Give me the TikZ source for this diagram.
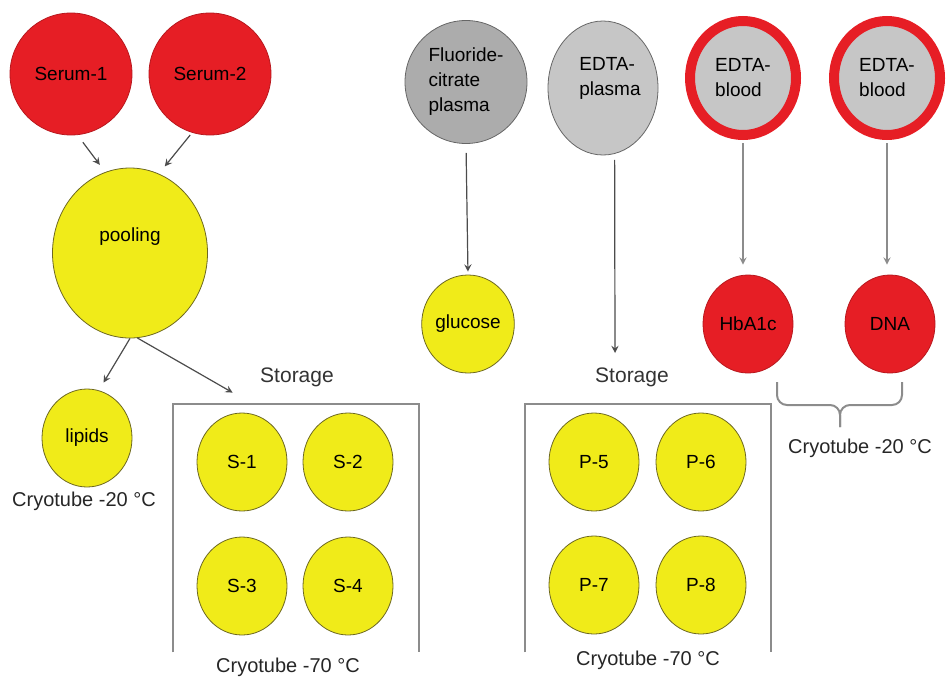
\documentclass[tikz,border=0pt]{standalone}
\usepackage{fontspec}
\setmainfont{Liberation Sans}
\usetikzlibrary{shapes.geometric, positioning, arrows, calc}
\definecolor{bloodred}{RGB}{230,30,37}
\definecolor{tubeyellow}{RGB}{240,235,25}
\definecolor{darkplasma}{RGB}{172,172,172}
\definecolor{lightplasma}{RGB}{198,198,198}
\tikzset{
    >=stealth, % small solid arrow heads
    every node/.style={font=\fontsize{9.5}{12.5}\selectfont, inner sep=0pt},
    tube/.style={ellipse, draw=olive!70!black, fill=tubeyellow, minimum width=45pt, minimum height=49pt}, % one sample tube
    redtube/.style={tube, draw=bloodred!80!black, fill=bloodred},
    serum/.style={ellipse, draw=bloodred!80!black, fill=bloodred, minimum width=61pt, minimum height=61pt},
    plasma/.style={ellipse, draw=black!60, align=left},
    blood/.style={ellipse, draw=bloodred, line width=5pt, fill=lightplasma, minimum width=53pt, minimum height=57pt, align=left},
    note/.style={font=\fontsize{10}{12}\selectfont, text=black!85},
    storage/.style={font=\fontsize{10.5}{12}\selectfont, text=black!80},
    arr/.style={->, draw=black!70, line width=0.6pt},
    frame/.style={draw=black!45, line width=1pt},
    rack/.style={minimum width=123pt, minimum height=124pt},
}
\begin{document}
\begin{tikzpicture}[x=0.5pt, y=-0.5pt]
\useasboundingbox (0,0) rectangle (946,680);
% serum
\node[serum] (s1) at (71,74) {Serum-1};
\node[serum, right of=s1, node distance=69.5pt] (s2) {Serum-2};
\node[tube, minimum width=77.5pt, minimum height=85pt, label={[yshift=8pt]center:pooling}] (pool) at (130,253) {};
\node[tube] (lip) at (87,438) {lipids};
\node[note] (lcold) at (84,501) {Cryotube -20 °C};
\node[storage] (sstore) at (297,377) {Storage};
\node[rack] (lbox) at (296,528) {};
\draw[frame] (lbox.south west) |- (lbox.north east) -- (lbox.south east);
\node[tube] (S1) at (242,462) {S-1};
\node[tube, right of=S1, node distance=53pt] (S2) {S-2};
\node[tube, below of=S1, node distance=62pt] (S3) {S-3};
\node[tube, right of=S3, node distance=53pt] (S4) {S-4};
\node[note] (scold) at (288,667) {Cryotube -70 °C};
\coordinate (sarr) at ($(lbox.north west)+(60,-11)$);
\draw[arr, shorten <=4.5pt, shorten >=4.5pt] (s1.-84) -- (pool.107);
\draw[arr, shorten <=1.5pt, shorten >=4.7pt] (s2.-107) -- (pool.70);
\draw[arr, shorten >=4.5pt] (pool.south) -- (lip.76);
\draw[arr] (pool.-85) -- (sarr);
% plasma and whole blood
\node[plasma, fill=darkplasma, minimum width=61pt, minimum height=61.5pt] (flu) at (466,82) {Fluoride-\\citrate\\plasma};
\node[plasma, fill=lightplasma, minimum width=55pt, minimum height=67pt, label={[xshift=3.5pt, yshift=5pt, align=left]center:EDTA-\\plasma}] (ep) at (603,88) {};
\node[blood] (eb1) at (743,78) {EDTA-\\blood};
\node[blood, right of=eb1, node distance=72pt] (eb2) {EDTA-\\blood};
\node[tube] (glu) at (468,324) {glucose};
\node[redtube] (hb) at (748,324) {HbA1c};
\node[redtube, right of=hb, node distance=71pt] (dna) {DNA};
\node[storage] (pstore) at (632,377) {Storage};
\node[rack] (rbox) at (648,528) {};
\draw[frame] (rbox.south west) |- (rbox.north east) -- (rbox.south east);
\node[tube] (P5) at (594,462) {P-5};
\node[tube, right of=P5, node distance=53.5pt] (P6) {P-6};
\node[tube, below of=P5, node distance=61.5pt] (P7) {P-7};
\node[tube, right of=P7, node distance=53.5pt] (P8) {P-8};
\node[note] (pcold) at (648,660) {Cryotube -70 °C};
\node[note] (bcold) at (860,448) {Cryotube -20 °C};
% brace under HbA1c and DNA
\draw[frame, rounded corners=5pt] (777,382) |- (840,405) -- (840,427);
\draw[frame, rounded corners=5pt] (902,382) |- (840,405) -- (840,427);
\coordinate (eptip) at (615,353);
\draw[arr, shorten <=4.5pt, shorten >=1.5pt] (flu.south) -- (glu.north);
\draw[arr, shorten <=3pt] (ep.-80) -- (eptip);
\draw[arr, draw=black!45, shorten <=1.5pt, shorten >=5pt] (eb1.south) -- (eb1.south |- hb.north);
\draw[arr, draw=black!45, shorten <=1.5pt, shorten >=5pt] (eb2.south) -- (eb2.south |- dna.north);
\end{tikzpicture}
\end{document}
